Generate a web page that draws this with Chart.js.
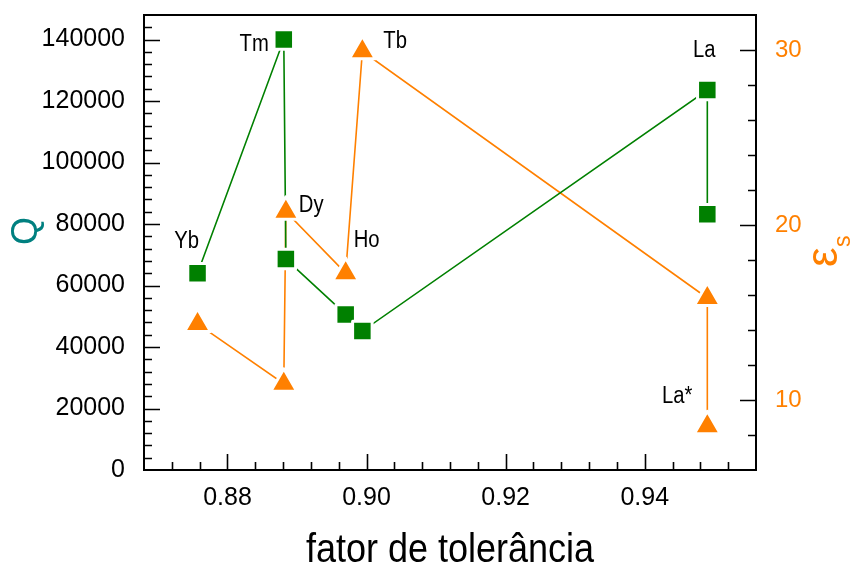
<!DOCTYPE html>
<html>
<head>
<meta charset="utf-8">
<title>Q e permissividade x fator de tolerância</title>
<script src="https://cdn.jsdelivr.net/npm/chart.js@4.4.0/dist/chart.umd.min.js"></script>
<style>
  html, body { margin:0; padding:0; background:#fff; }
  #myChart { display:block; }
</style>
</head>
<body>
<canvas id="myChart" width="859" height="567"></canvas>
<script>
// dados: fator de tolerancia, fator de qualidade Q e constante dieletrica
var elementos = ["Yb", "Tm", "Dy", "Ho", "Tb", "La", "La*"];
var fator = [0.8757, 0.8881, 0.8884, 0.8970, 0.8994, 0.9490, 0.9490];
var qValores = [64000, 140000, 68600, 50600, 45200, 123600, 83200];
var epsValores = [14.35, 10.93, 20.76, 17.25, 29.93, 15.83, 8.5];

var xTicks = [0.88, 0.90, 0.92, 0.94];
var qTicks = [0, 20000, 40000, 60000, 80000, 100000, 120000, 140000];
var epsTicks = [10, 20, 30];

var xMin = 0.868, xMax = 0.956;
var qMin = 0, qMax = 148000;
var epsMin = 6, epsMax = 32;

// qual serie recebe o rotulo de cada elemento
var rotuloQ = ["Yb", "Tm", "La"];
var rotuloEps = ["Dy", "Ho", "Tb", "La*"];

var verde = '#008000';
var laranja = '#ff8000';
var azul = '#008080';

// posicao do texto em relacao ao ponto (px)
var offsets = {
  "Yb":  {dx: -11, dy: -25, align: 'center'},
  "Tm":  {dx: -15, dy: 11, align: 'right'},
  "La":  {dx: -3, dy: -33, align: 'center'},
  "Dy":  {dx: 13, dy: 0, align: 'left'},
  "Ho":  {dx: 8, dy: -26, align: 'left'},
  "Tb":  {dx: 21, dy: -3, align: 'left'},
  "La*": {dx: -15, dy: -23, align: 'right'}
};

function pontos(ys) {
  var out = [];
  for (var i = 0; i < fator.length; i++) out.push({x: fator[i], y: ys[i]});
  return out;
}

function fixa(lista) {
  return function(scale) {
    scale.ticks = lista.map(function(v) { return {value: v}; });
  };
}

// largura/altura fixas do eixo, sem folga extra para os rotulos
function tamanho(w, h) {
  return function(s) {
    if (w != null) s.width = w;
    if (h != null) s.height = h;
    s.paddingTop = 0; s.paddingBottom = 0;
    s.paddingLeft = 0; s.paddingRight = 0;
  };
}

function textoEstreito(ctx, txt, x, y, esc) {
  ctx.save();
  ctx.translate(x, y);
  ctx.scale(esc, 1);
  ctx.fillText(txt, 0, 0);
  ctx.restore();
}

// moldura e marcas para dentro
var moldura = {
  id: 'moldura',
  beforeDatasetsDraw: function(chart) {
    var ctx = chart.ctx, a = chart.chartArea;
    var sx = chart.scales.x, sq = chart.scales.y, se = chart.scales.y2;
    var k, p, len;
    ctx.save();
    ctx.strokeStyle = '#000';
    ctx.lineWidth = 1.6;
    ctx.beginPath();
    for (k = 218; k <= 238; k++) {
      p = Math.round(sx.getPixelForValue(k * 0.004)) + 0.5;
      len = (k % 5 == 0) ? 16 : 8;
      ctx.moveTo(p, a.bottom); ctx.lineTo(p, a.bottom - len);
    }
    for (k = 1; k <= 36; k++) {
      p = Math.round(sq.getPixelForValue(k * 4000)) + 0.5;
      len = (k % 5 == 0) ? 16 : 8;
      ctx.moveTo(a.left, p); ctx.lineTo(a.left + len, p);
    }
    for (k = 4; k <= 15; k++) {
      p = Math.round(se.getPixelForValue(k * 2)) + 0.5;
      len = (k % 5 == 0) ? 16 : 8;
      ctx.moveTo(a.right, p); ctx.lineTo(a.right - len, p);
    }
    ctx.stroke();
    ctx.lineWidth = 2;
    ctx.strokeRect(a.left, a.top, a.right - a.left, a.bottom - a.top);
    ctx.restore();
    // borda branca dos simbolos com cantos arredondados
    ctx.lineJoin = 'round';
  },
  afterDraw: function(chart) {
    var ctx = chart.ctx;
    ctx.save();
    ctx.fillStyle = '#000';
    ctx.textBaseline = 'alphabetic';
    ctx.font = "23px 'Liberation Sans', Arial, sans-serif";
    var metaQ = chart.getDatasetMeta(0), metaE = chart.getDatasetMeta(1);
    elementos.forEach(function(nome, i) {
      var el = null;
      if (rotuloQ.indexOf(nome) >= 0) el = metaQ.data[i];
      if (rotuloEps.indexOf(nome) >= 0) el = metaE.data[i];
      if (!el) return;
      var o = offsets[nome];
      ctx.textAlign = o.align;
      textoEstreito(ctx, nome, el.x + o.dx, el.y + o.dy, 0.88);
    });

    // titulo do eixo x
    ctx.textAlign = 'center';
    ctx.font = "40px 'Liberation Sans', Arial, sans-serif";
    textoEstreito(ctx, 'fator de tolerância', 450, 562, 0.9);

    // Q (eixo esquerdo)
    ctx.save();
    ctx.translate(37, 231);
    ctx.rotate(-Math.PI / 2);
    ctx.fillStyle = azul;
    ctx.font = "36px 'Liberation Sans', Arial, sans-serif";
    ctx.textAlign = 'center';
    ctx.fillText('Q', 0, 0);
    ctx.restore();

    // epsilon s (eixo direito)
    ctx.save();
    ctx.translate(837, 267);
    ctx.rotate(-Math.PI / 2);
    ctx.fillStyle = laranja;
    ctx.textAlign = 'left';
    ctx.font = "44px 'Liberation Sans', Arial, sans-serif";
    ctx.fillText('\u03b5', 0, 0);
    ctx.font = "23px 'Liberation Sans', Arial, sans-serif";
    ctx.fillText('s', 20, 13);
    ctx.restore();
    ctx.restore();
  }
};

Chart.defaults.font.family = "'Liberation Sans', Arial, sans-serif";

var ctx = document.getElementById("myChart");
var myChart = new Chart(ctx, {
  type: 'scatter',
  data: {
    datasets: [
      {
        label: 'Q',
        data: pontos(qValores),
        yAxisID: 'y',
        showLine: false,
        pointStyle: 'rect',
        pointRadius: 13.8,
        backgroundColor: verde,
        borderColor: '#fff',
        borderWidth: 3,
        order: 0
      },
      {
        label: 'eps',
        data: pontos(epsValores),
        yAxisID: 'y2',
        showLine: false,
        pointStyle: 'triangle',
        pointRadius: 15,
        backgroundColor: laranja,
        borderColor: '#fff',
        borderWidth: 3,
        order: 1
      },
      {
        label: 'Q linha',
        data: pontos(qValores),
        yAxisID: 'y',
        showLine: true,
        pointRadius: 0,
        borderColor: verde,
        borderWidth: 1.6,
        order: 2
      },
      {
        label: 'eps linha',
        data: pontos(epsValores),
        yAxisID: 'y2',
        showLine: true,
        pointRadius: 0,
        borderColor: laranja,
        borderWidth: 1.6,
        order: 3
      }
    ]
  },
  options: {
    responsive: false,
    animation: false,
    devicePixelRatio: 1,
    layout: { padding: { top: 15, left: 0, right: 0, bottom: 0 }, autoPadding: false },
    plugins: { legend: { display: false }, tooltip: { enabled: false } },
    scales: {
      x: {
        type: 'linear', position: 'bottom', min: xMin, max: xMax,
        afterBuildTicks: fixa(xTicks),
        afterFit: tamanho(null, 97),
        grid: { display: false, drawTicks: false },
        border: { display: false },
        ticks: {
          color: '#000', font: { size: 25 }, padding: 13, maxRotation: 0, autoSkip: false,
          callback: function(v) { return Number(v).toFixed(2); }
        }
      },
      y: {
        type: 'linear', position: 'left', min: qMin, max: qMax,
        afterBuildTicks: fixa(qTicks),
        afterFit: tamanho(144, null),
        grid: { display: false, drawTicks: false },
        border: { display: false },
        ticks: {
          color: '#000', font: { size: 25 }, padding: 19, autoSkip: false,
          callback: function(v) { return String(v); }
        }
      },
      y2: {
        type: 'linear', position: 'right', min: epsMin, max: epsMax,
        afterBuildTicks: fixa(epsTicks),
        afterFit: tamanho(103, null),
        grid: { display: false, drawTicks: false },
        border: { display: false },
        ticks: {
          color: laranja, font: { size: 24 }, padding: 19, autoSkip: false,
          callback: function(v) { return String(v); }
        }
      }
    }
  },
  plugins: [moldura]
});
</script>
</body>
</html>
